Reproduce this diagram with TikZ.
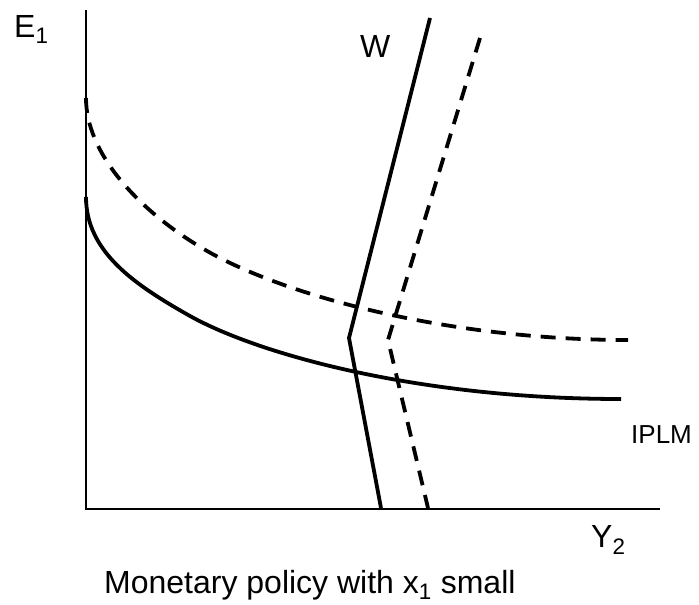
\documentclass[tikz,border=0pt]{standalone}
\usepackage{fontspec}
\setmainfont{Liberation Sans}
\begin{document}
\begin{tikzpicture}[x=1pt, y=-1pt,
  axis/.style={line width=1.5pt},
  curve/.style={line width=3.8pt},
  shifted/.style={curve, dash pattern=on 15pt off 10pt},
  lbl/.style={inner sep=0pt, font=\fontsize{32}{38}\selectfont},
  small lbl/.style={inner sep=0pt, font=\fontsize{26}{31}\selectfont},
]
\useasboundingbox (0,0) rectangle (699,605);

% axes
\coordinate (top) at (86,10);
\coordinate (origin) at (86,509);
\coordinate (right end) at (660,509);
\draw[axis] (top) -- (origin) -- (right end);

% IPLM curves
\draw[curve] (86,197) .. controls (86,252) and (135,285) .. (190,316)
  .. controls (260,355) and (421,399) .. (621,399);
\draw[shifted] (86,98) .. controls (86,153) and (137,208) .. (197,245)
  .. controls (277,295) and (448,340) .. (628,340);

% W curves
\coordinate (w top) at (430,18);
\coordinate (w kink) at (349,338);
\coordinate (w foot) at (381,508);
\coordinate (w2 top) at (480,38);
\coordinate (w2 kink) at (388,340);
\coordinate (w2 foot) at (428,508);
\draw[curve] (w top) -- (w kink) -- (w foot);
\draw[shifted] (w2 top) -- (w2 kink) -- (w2 foot);

% labels
\node[lbl, anchor=base west] (e1) at (14,37) {E\textsubscript{1}};
\node[lbl, anchor=base west] (w) at (360,57) {W};
\node[lbl, anchor=base west] (y2) at (591,547) {Y\textsubscript{2}};
\node[small lbl, anchor=base west] (iplm) at (631,443) {IPLM};
\node[lbl, anchor=base west] (caption) at (104,593) {Monetary policy with x\textsubscript{1} small};
\end{tikzpicture}
\end{document}
